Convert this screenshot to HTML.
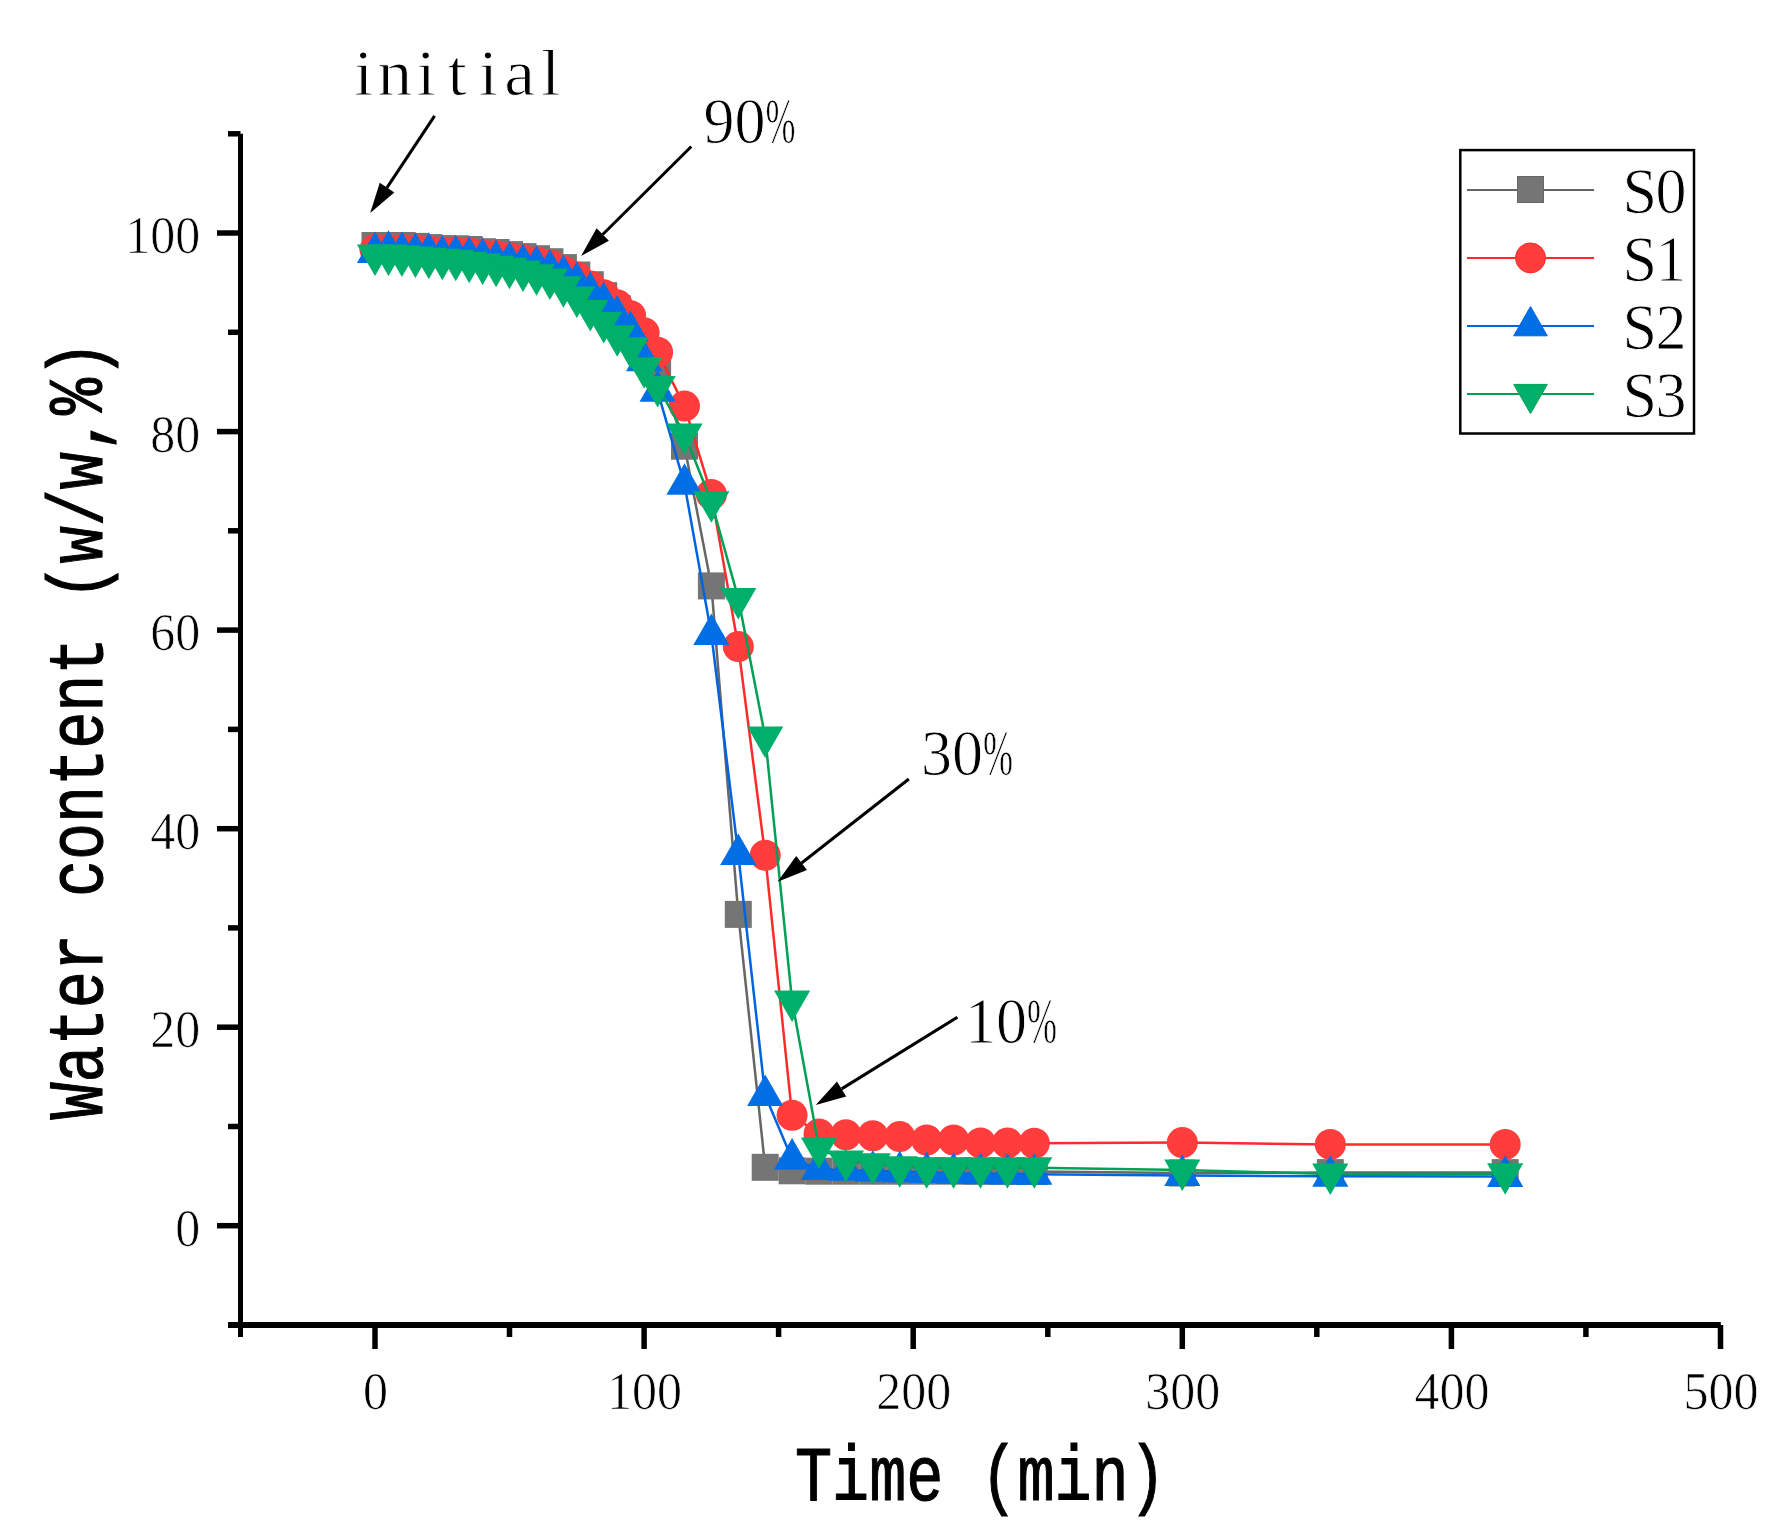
<!DOCTYPE html>
<html lang="en"><head><meta charset="utf-8"><title>Water content vs time</title>
<style>
html,body{margin:0;padding:0;background:#fff}
svg{display:block}
text{font-family:"Liberation Serif",serif;fill:#000}
.tk{font-size:50px;stroke:#fff;stroke-width:.7px}
.an{font-size:62px;stroke:#fff;stroke-width:.9px}
.ti{font-family:"Liberation Mono",monospace;font-size:61.8px;stroke:#000;stroke-width:.9px}
</style></head><body>
<svg width="1781" height="1532" viewBox="0 0 1781 1532">
<rect width="1781" height="1532" fill="#fff"/>
<polyline points="375,245.5 388.5,245.5 401.9,245.5 415.4,246.4 428.8,247.6 442.3,248.8 455.7,248.8 469.2,249.5 482.6,251.7 496.1,252.5 509.5,254.6 523,256.6 536.5,258.7 549.9,261.7 563.4,267.6 576.8,275 590.3,284.7 603.7,295.6 617.2,308.6 630.6,322 644.1,341 657.6,364 684.5,446.2 711.4,585.9 738.3,914.4 765.2,1167.3 792.1,1170.8 819,1171.2 845.9,1171.2 872.8,1171.2 899.7,1171.2 926.7,1171.2 953.6,1171.2 980.5,1171.3 1007.4,1171.4 1034.3,1171.5 1182.3,1173 1330.3,1172.6 1505.2,1172.6" fill="none" stroke="#666666" stroke-width="2.5" stroke-linejoin="round"/>
<g fill="#757575"><rect x="361.5" y="232" width="27" height="27"/><rect x="375" y="232" width="27" height="27"/><rect x="388.4" y="232" width="27" height="27"/><rect x="401.9" y="232.9" width="27" height="27"/><rect x="415.3" y="234.1" width="27" height="27"/><rect x="428.8" y="235.3" width="27" height="27"/><rect x="442.2" y="235.3" width="27" height="27"/><rect x="455.7" y="236" width="27" height="27"/><rect x="469.1" y="238.2" width="27" height="27"/><rect x="482.6" y="239" width="27" height="27"/><rect x="496" y="241.1" width="27" height="27"/><rect x="509.5" y="243.1" width="27" height="27"/><rect x="523" y="245.2" width="27" height="27"/><rect x="536.4" y="248.2" width="27" height="27"/><rect x="549.9" y="254.1" width="27" height="27"/><rect x="563.3" y="261.5" width="27" height="27"/><rect x="576.8" y="271.2" width="27" height="27"/><rect x="590.2" y="282.1" width="27" height="27"/><rect x="603.7" y="295.1" width="27" height="27"/><rect x="617.1" y="308.5" width="27" height="27"/><rect x="630.6" y="327.5" width="27" height="27"/><rect x="644.1" y="350.5" width="27" height="27"/><rect x="671" y="432.7" width="27" height="27"/><rect x="697.9" y="572.4" width="27" height="27"/><rect x="724.8" y="900.9" width="27" height="27"/><rect x="751.7" y="1153.8" width="27" height="27"/><rect x="778.6" y="1157.3" width="27" height="27"/><rect x="805.5" y="1157.7" width="27" height="27"/><rect x="832.4" y="1157.7" width="27" height="27"/><rect x="859.3" y="1157.7" width="27" height="27"/><rect x="886.2" y="1157.7" width="27" height="27"/><rect x="913.2" y="1157.7" width="27" height="27"/><rect x="940.1" y="1157.7" width="27" height="27"/><rect x="967" y="1157.8" width="27" height="27"/><rect x="993.9" y="1157.9" width="27" height="27"/><rect x="1020.8" y="1158" width="27" height="27"/><rect x="1168.8" y="1159.5" width="27" height="27"/><rect x="1316.8" y="1159.1" width="27" height="27"/><rect x="1491.7" y="1159.1" width="27" height="27"/></g>
<polyline points="375,249.6 388.5,249.5 401.9,249.4 415.4,249.8 428.8,250.8 442.3,251.9 455.7,252 469.2,252.8 482.6,254.8 496.1,255.7 509.5,257.8 523,259.8 536.5,261.9 549.9,264.8 563.4,270.9 576.8,277 590.3,286 603.7,294.7 617.2,304.8 630.6,315.7 644.1,332.8 657.6,352.2 684.5,406.1 711.4,494.4 738.3,646.6 765.2,855.3 792.1,1115.3 819,1133.9 845.9,1134.8 872.8,1135.7 899.7,1136.6 926.7,1140 953.6,1140 980.5,1142.9 1007.4,1142.9 1034.3,1143.2 1182.3,1142.6 1330.3,1144.4 1505.2,1144.4" fill="none" stroke="#FF2A2A" stroke-width="2.5" stroke-linejoin="round"/>
<g fill="#FF3D3D"><circle cx="375" cy="249.6" r="15.5"/><circle cx="388.5" cy="249.5" r="15.5"/><circle cx="401.9" cy="249.4" r="15.5"/><circle cx="415.4" cy="249.8" r="15.5"/><circle cx="428.8" cy="250.8" r="15.5"/><circle cx="442.3" cy="251.9" r="15.5"/><circle cx="455.7" cy="252" r="15.5"/><circle cx="469.2" cy="252.8" r="15.5"/><circle cx="482.6" cy="254.8" r="15.5"/><circle cx="496.1" cy="255.7" r="15.5"/><circle cx="509.5" cy="257.8" r="15.5"/><circle cx="523" cy="259.8" r="15.5"/><circle cx="536.5" cy="261.9" r="15.5"/><circle cx="549.9" cy="264.8" r="15.5"/><circle cx="563.4" cy="270.9" r="15.5"/><circle cx="576.8" cy="277" r="15.5"/><circle cx="590.3" cy="286" r="15.5"/><circle cx="603.7" cy="294.7" r="15.5"/><circle cx="617.2" cy="304.8" r="15.5"/><circle cx="630.6" cy="315.7" r="15.5"/><circle cx="644.1" cy="332.8" r="15.5"/><circle cx="657.6" cy="352.2" r="15.5"/><circle cx="684.5" cy="406.1" r="15.5"/><circle cx="711.4" cy="494.4" r="15.5"/><circle cx="738.3" cy="646.6" r="15.5"/><circle cx="765.2" cy="855.3" r="15.5"/><circle cx="792.1" cy="1115.3" r="15.5"/><circle cx="819" cy="1133.9" r="15.5"/><circle cx="845.9" cy="1134.8" r="15.5"/><circle cx="872.8" cy="1135.7" r="15.5"/><circle cx="899.7" cy="1136.6" r="15.5"/><circle cx="926.7" cy="1140" r="15.5"/><circle cx="953.6" cy="1140" r="15.5"/><circle cx="980.5" cy="1142.9" r="15.5"/><circle cx="1007.4" cy="1142.9" r="15.5"/><circle cx="1034.3" cy="1143.2" r="15.5"/><circle cx="1182.3" cy="1142.6" r="15.5"/><circle cx="1330.3" cy="1144.4" r="15.5"/><circle cx="1505.2" cy="1144.4" r="15.5"/></g>
<polyline points="375,252.6 388.5,251.2 401.9,252.4 415.4,253.3 428.8,253.3 442.3,255.7 455.7,255.7 469.2,257.3 482.6,258.6 496.1,260.7 509.5,262.3 523,264.4 536.5,266.2 549.9,270.1 563.4,275.4 576.8,282.6 590.3,292.5 603.7,302.6 617.2,316.1 630.6,331.5 644.1,360.8 657.6,391.2 684.5,484.3 711.4,634.5 738.3,854.5 765.2,1095.5 792.1,1159 819,1169.5 845.9,1170.3 872.8,1171 899.7,1171.8 926.7,1172.5 953.6,1173.3 980.5,1173.7 1007.4,1174 1034.3,1174.2 1182.3,1175.5 1330.3,1176.3 1505.2,1176.5" fill="none" stroke="#0064E0" stroke-width="2.5" stroke-linejoin="round"/>
<g fill="#006EE4"><path d="M375 231.6L393.1 263.1H356.9Z"/><path d="M388.5 230.2L406.6 261.7H370.4Z"/><path d="M401.9 231.4L420 262.9H383.8Z"/><path d="M415.4 232.3L433.5 263.8H397.3Z"/><path d="M428.8 232.3L446.9 263.8H410.7Z"/><path d="M442.3 234.7L460.4 266.2H424.2Z"/><path d="M455.7 234.7L473.8 266.2H437.6Z"/><path d="M469.2 236.3L487.3 267.8H451.1Z"/><path d="M482.6 237.6L500.7 269.1H464.5Z"/><path d="M496.1 239.7L514.2 271.2H478Z"/><path d="M509.5 241.3L527.6 272.8H491.4Z"/><path d="M523 243.4L541.1 274.9H504.9Z"/><path d="M536.5 245.2L554.6 276.7H518.4Z"/><path d="M549.9 249.1L568 280.6H531.8Z"/><path d="M563.4 254.4L581.5 285.9H545.3Z"/><path d="M576.8 261.6L594.9 293.1H558.7Z"/><path d="M590.3 271.5L608.4 303H572.2Z"/><path d="M603.7 281.6L621.8 313.1H585.6Z"/><path d="M617.2 295.1L635.3 326.6H599.1Z"/><path d="M630.6 310.5L648.7 342H612.5Z"/><path d="M644.1 339.8L662.2 371.3H626Z"/><path d="M657.6 370.2L675.7 401.7H639.5Z"/><path d="M684.5 463.3L702.6 494.8H666.4Z"/><path d="M711.4 613.5L729.5 645H693.3Z"/><path d="M738.3 833.5L756.4 865H720.2Z"/><path d="M765.2 1074.5L783.3 1106H747.1Z"/><path d="M792.1 1138L810.2 1169.5H774Z"/><path d="M819 1148.5L837.1 1180H800.9Z"/><path d="M845.9 1149.3L864 1180.8H827.8Z"/><path d="M872.8 1150L890.9 1181.5H854.7Z"/><path d="M899.7 1150.8L917.8 1182.3H881.6Z"/><path d="M926.7 1151.5L944.8 1183H908.6Z"/><path d="M953.6 1152.3L971.7 1183.8H935.5Z"/><path d="M980.5 1152.7L998.6 1184.2H962.4Z"/><path d="M1007.4 1153L1025.5 1184.5H989.3Z"/><path d="M1034.3 1153.2L1052.4 1184.7H1016.2Z"/><path d="M1182.3 1154.5L1200.4 1186H1164.2Z"/><path d="M1330.3 1155.3L1348.4 1186.8H1312.2Z"/><path d="M1505.2 1155.5L1523.3 1187H1487.1Z"/></g>
<polyline points="375,255 388.5,255.1 401.9,256.1 415.4,256.9 428.8,258.2 442.3,259.2 455.7,260.3 469.2,262.3 482.6,264 496.1,266.2 509.5,268.3 523,271.1 536.5,274.8 549.9,279 563.4,286.7 576.8,297 590.3,310.5 603.7,322.5 617.2,335.8 630.6,347.8 644.1,367.8 657.6,386.5 684.5,434 711.4,501.7 738.3,598.4 765.2,737 792.1,1001 819,1148 845.9,1161 872.8,1163.7 899.7,1166.8 926.7,1167.8 953.6,1167.8 980.5,1167.8 1007.4,1167.8 1034.3,1167.8 1182.3,1170 1330.3,1174 1505.2,1173.8" fill="none" stroke="#00A055" stroke-width="2.5" stroke-linejoin="round"/>
<g fill="#00AF69"><path d="M375 276L393.1 244.5H356.9Z"/><path d="M388.5 276.1L406.6 244.6H370.4Z"/><path d="M401.9 277.1L420 245.6H383.8Z"/><path d="M415.4 277.9L433.5 246.4H397.3Z"/><path d="M428.8 279.2L446.9 247.7H410.7Z"/><path d="M442.3 280.2L460.4 248.7H424.2Z"/><path d="M455.7 281.3L473.8 249.8H437.6Z"/><path d="M469.2 283.3L487.3 251.8H451.1Z"/><path d="M482.6 285L500.7 253.5H464.5Z"/><path d="M496.1 287.2L514.2 255.7H478Z"/><path d="M509.5 289.3L527.6 257.8H491.4Z"/><path d="M523 292.1L541.1 260.6H504.9Z"/><path d="M536.5 295.8L554.6 264.3H518.4Z"/><path d="M549.9 300L568 268.5H531.8Z"/><path d="M563.4 307.7L581.5 276.2H545.3Z"/><path d="M576.8 318L594.9 286.5H558.7Z"/><path d="M590.3 331.5L608.4 300H572.2Z"/><path d="M603.7 343.5L621.8 312H585.6Z"/><path d="M617.2 356.8L635.3 325.3H599.1Z"/><path d="M630.6 368.8L648.7 337.3H612.5Z"/><path d="M644.1 388.8L662.2 357.3H626Z"/><path d="M657.6 407.5L675.7 376H639.5Z"/><path d="M684.5 455L702.6 423.5H666.4Z"/><path d="M711.4 522.7L729.5 491.2H693.3Z"/><path d="M738.3 619.4L756.4 587.9H720.2Z"/><path d="M765.2 758L783.3 726.5H747.1Z"/><path d="M792.1 1022L810.2 990.5H774Z"/><path d="M819 1169L837.1 1137.5H800.9Z"/><path d="M845.9 1182L864 1150.5H827.8Z"/><path d="M872.8 1184.7L890.9 1153.2H854.7Z"/><path d="M899.7 1187.8L917.8 1156.3H881.6Z"/><path d="M926.7 1188.8L944.8 1157.3H908.6Z"/><path d="M953.6 1188.8L971.7 1157.3H935.5Z"/><path d="M980.5 1188.8L998.6 1157.3H962.4Z"/><path d="M1007.4 1188.8L1025.5 1157.3H989.3Z"/><path d="M1034.3 1188.8L1052.4 1157.3H1016.2Z"/><path d="M1182.3 1191L1200.4 1159.5H1164.2Z"/><path d="M1330.3 1195L1348.4 1163.5H1312.2Z"/><path d="M1505.2 1194.8L1523.3 1163.3H1487.1Z"/></g>
<g stroke="#000" fill="none"><line x1="240.5" y1="133.8" x2="240.5" y2="1337" stroke-width="5"/><line x1="228" y1="1325" x2="1720.8" y2="1325" stroke-width="6"/><g stroke-width="5.5"><line x1="217" y1="1225.7" x2="240.5" y2="1225.7"/><line x1="228" y1="1126.5" x2="240.5" y2="1126.5"/><line x1="217" y1="1027.2" x2="240.5" y2="1027.2"/><line x1="228" y1="927.9" x2="240.5" y2="927.9"/><line x1="217" y1="828.7" x2="240.5" y2="828.7"/><line x1="228" y1="729.4" x2="240.5" y2="729.4"/><line x1="217" y1="630.1" x2="240.5" y2="630.1"/><line x1="228" y1="530.8" x2="240.5" y2="530.8"/><line x1="217" y1="431.6" x2="240.5" y2="431.6"/><line x1="228" y1="332.3" x2="240.5" y2="332.3"/><line x1="217" y1="233" x2="240.5" y2="233"/><line x1="228" y1="133.8" x2="240.5" y2="133.8"/><line x1="375" y1="1325" x2="375" y2="1349"/><line x1="509.5" y1="1325" x2="509.5" y2="1337"/><line x1="644.1" y1="1325" x2="644.1" y2="1349"/><line x1="778.6" y1="1325" x2="778.6" y2="1337"/><line x1="913.2" y1="1325" x2="913.2" y2="1349"/><line x1="1047.8" y1="1325" x2="1047.8" y2="1337"/><line x1="1182.3" y1="1325" x2="1182.3" y2="1349"/><line x1="1316.8" y1="1325" x2="1316.8" y2="1337"/><line x1="1451.4" y1="1325" x2="1451.4" y2="1349"/><line x1="1585.9" y1="1325" x2="1585.9" y2="1337"/><line x1="1720.5" y1="1325" x2="1720.5" y2="1349"/></g></g>
<text class="tk" transform="translate(200.3,1245.7) scale(1,1.05)" text-anchor="end">0</text><text class="tk" transform="translate(200.3,1047.2) scale(1,1.05)" text-anchor="end">20</text><text class="tk" transform="translate(200.3,848.7) scale(1,1.05)" text-anchor="end">40</text><text class="tk" transform="translate(200.3,650.1) scale(1,1.05)" text-anchor="end">60</text><text class="tk" transform="translate(200.3,451.6) scale(1,1.05)" text-anchor="end">80</text><text class="tk" transform="translate(200.3,253) scale(1,1.05)" text-anchor="end">100</text><text class="tk" transform="translate(375.5,1409) scale(1,1.07)" text-anchor="middle">0</text><text class="tk" transform="translate(644.6,1409) scale(1,1.07)" text-anchor="middle">100</text><text class="tk" transform="translate(913.7,1409) scale(1,1.07)" text-anchor="middle">200</text><text class="tk" transform="translate(1182.8,1409) scale(1,1.07)" text-anchor="middle">300</text><text class="tk" transform="translate(1451.9,1409) scale(1,1.07)" text-anchor="middle">400</text><text class="tk" transform="translate(1721,1409) scale(1,1.07)" text-anchor="middle">500</text>
<text class="ti" transform="translate(795,1500.3) scale(1,1.25)">Time (min)</text>
<text class="ti" transform="translate(102.3,1119.5) rotate(-90) scale(1,1.25)">Water content (w/w,%)</text>
<text class="an" transform="translate(363.7,94.8) scale(1.12,1.07)" text-anchor="middle" x="0 27.8 55.7 83.5 111.3 139.2 167">initial</text><text class="an" transform="translate(703.5,142.5) scale(1,1.07)" aria-label="90%">90<tspan textLength="30" lengthAdjust="spacingAndGlyphs">%</tspan></text><text class="an" transform="translate(921,774.8) scale(1,1.07)" aria-label="30%">30<tspan textLength="30" lengthAdjust="spacingAndGlyphs">%</tspan></text><text class="an" transform="translate(965,1042.9) scale(1,1.07)" aria-label="10%">10<tspan textLength="30" lengthAdjust="spacingAndGlyphs">%</tspan></text>
<line x1="434.6" y1="115.8" x2="387" y2="187.6" stroke="#000" stroke-width="3"/><path d="M370.2 213L379.8 182.7L394.3 192.4Z" fill="#000"/>
<line x1="691.3" y1="146.5" x2="602.7" y2="234.5" stroke="#000" stroke-width="3"/><path d="M581.1 256L596.6 228.3L608.9 240.7Z" fill="#000"/>
<line x1="908.9" y1="779" x2="801.6" y2="863" stroke="#000" stroke-width="3"/><path d="M777.6 881.8L796.2 856.1L807 869.9Z" fill="#000"/>
<line x1="957.4" y1="1017.2" x2="841.6" y2="1088.9" stroke="#000" stroke-width="3"/><path d="M815.7 1105L837 1081.5L846.2 1096.4Z" fill="#000"/>
<rect x="1460.3" y="150.1" width="233.7" height="283.4" fill="#fff" stroke="#000" stroke-width="2.5"/>
<line x1="1467" y1="189.9" x2="1594" y2="189.9" stroke="#666666" stroke-width="2"/><g fill="#757575" stroke="#666666" stroke-width="1"><rect x="1517.5" y="176.5" width="26" height="26"/></g><text class="an" transform="translate(1639.7,212.5) scale(1,1.07)" text-anchor="middle" x="0 31.4">S0</text>
<line x1="1467" y1="257.9" x2="1594" y2="257.9" stroke="#FF2A2A" stroke-width="2"/><g fill="#FF3D3D" stroke="#FF2A2A" stroke-width="1"><circle cx="1530.5" cy="257.9" r="15.0"/></g><text class="an" transform="translate(1639.7,280.5) scale(1,1.07)" text-anchor="middle" x="0 31.4">S1</text>
<line x1="1467" y1="326" x2="1594" y2="326" stroke="#0064E0" stroke-width="2"/><g fill="#006EE4" stroke="#0064E0" stroke-width="1"><path d="M1530.5 306.5L1547.3 335.8H1513.7Z"/></g><text class="an" transform="translate(1639.7,348.6) scale(1,1.07)" text-anchor="middle" x="0 31.4">S2</text>
<line x1="1467" y1="394.1" x2="1594" y2="394.1" stroke="#00A055" stroke-width="2"/><g fill="#00AF69" stroke="#00A055" stroke-width="1"><path d="M1530.5 413.6L1547.3 384.4H1513.7Z"/></g><text class="an" transform="translate(1639.7,416.7) scale(1,1.07)" text-anchor="middle" x="0 31.4">S3</text>
</svg>
</body></html>
